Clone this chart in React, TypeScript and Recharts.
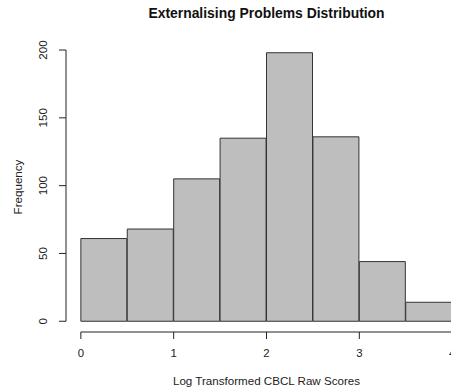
import React from "react";
import {
  ComposedChart,
  Bar,
  XAxis,
  YAxis,
  ReferenceLine,
  Label,
} from "recharts";

// histogram bins of the log transformed scores
const binStarts = [0, 0.5, 1, 1.5, 2, 2.5, 3, 3.5];
const binWidth = 0.5;
const frequencies = [61, 68, 105, 135, 198, 136, 44, 14];
const xTicks = [0, 1, 2, 3, 4];
const yTicks = [0, 50, 100, 150, 200];

const title = "Externalising Problems Distribution";
const xTitle = "Log Transformed CBCL Raw Scores";
const yTitle = "Frequency";

// R pads the plot region by 4% of the range on each side
const xMin = 0;
const xMax = 4;
const yMaxData = Math.max(...frequencies);
const xPad = (xMax - xMin) * 0.04;
const yPad = yMaxData * 0.04;

const data = binStarts.map((start, i) => ({
  mid: start + binWidth / 2,
  count: frequencies[i],
}));

if (typeof document !== "undefined") {
  document.body.style.margin = "0";
  document.body.style.overflow = "hidden";
}

const FONT = "'Liberation Sans', Arial, Helvetica, sans-serif";
const INK = "#222";

const YTick = (props: any) => {
  const { x, y, payload } = props;
  return (
    <text
      x={x}
      y={y}
      transform={`rotate(-90, ${x}, ${y})`}
      textAnchor="middle"
      fontSize={11.6}
      fontFamily={FONT}
      fill={INK}
    >
      {payload.value}
    </text>
  );
};

export default function App() {
  return (
    <div style={{ width: 451, height: 392, overflow: "hidden" }}>
      <ComposedChart
        width={467}
        height={392}
        data={data}
        barCategoryGap={0}
        barGap={0}
        margin={{ top: 42, right: 0, bottom: 0, left: 0 }}
      >
        <XAxis
          dataKey="mid"
          type="number"
          domain={[xMin - xPad, xMax + xPad]}
          allowDataOverflow
          ticks={xTicks}
          interval={0}
          height={60}
          axisLine={false}
          tickSize={7}
          tickMargin={10}
          tickLine={{ stroke: INK }}
          tick={{ fontSize: 11.4, fontFamily: FONT, fill: INK }}
        >
          <Label
            content={(p: any) => {
              const vb = p.viewBox;
              const cx = vb.x + vb.width / 2;
              return (
                <g>
                  <text
                    x={cx}
                    y={385}
                    textAnchor="middle"
                    fontSize={11.6}
                    fontFamily={FONT}
                    fill={INK}
                  >
                    {xTitle}
                  </text>
                  <text
                    x={cx}
                    y={18}
                    textAnchor="middle"
                    fontSize={13.9}
                    fontWeight="bold"
                    fontFamily={FONT}
                    fill="#111"
                  >
                    {title}
                  </text>
                </g>
              );
            }}
          />
        </XAxis>
        <YAxis
          type="number"
          domain={[-yPad, yMaxData + yPad]}
          allowDataOverflow
          ticks={yTicks}
          interval={0}
          width={66}
          axisLine={false}
          tickSize={7}
          tickMargin={12}
          tickLine={{ stroke: INK }}
          tick={<YTick />}
        >
          <Label
            content={(p: any) => {
              const vb = p.viewBox;
              const cy = vb.y + vb.height / 2;
              return (
                <text
                  x={22}
                  y={cy}
                  transform={`rotate(-90, 22, ${cy})`}
                  textAnchor="middle"
                  fontSize={11.6}
                  fontFamily={FONT}
                  fill={INK}
                >
                  {yTitle}
                </text>
              );
            }}
          />
        </YAxis>
        <Bar
          dataKey="count"
          fill="#bebebe"
          stroke="#333"
          strokeWidth={1}
          isAnimationActive={false}
        />
        <ReferenceLine
          segment={[
            { x: xMin - xPad, y: yTicks[0] },
            { x: xMin - xPad, y: yTicks[yTicks.length - 1] },
          ]}
          stroke={INK}
          ifOverflow="visible"
        />
        <ReferenceLine
          segment={[
            { x: xTicks[0], y: -yPad },
            { x: xTicks[xTicks.length - 1], y: -yPad },
          ]}
          stroke={INK}
          ifOverflow="visible"
        />
      </ComposedChart>
    </div>
  );
}
